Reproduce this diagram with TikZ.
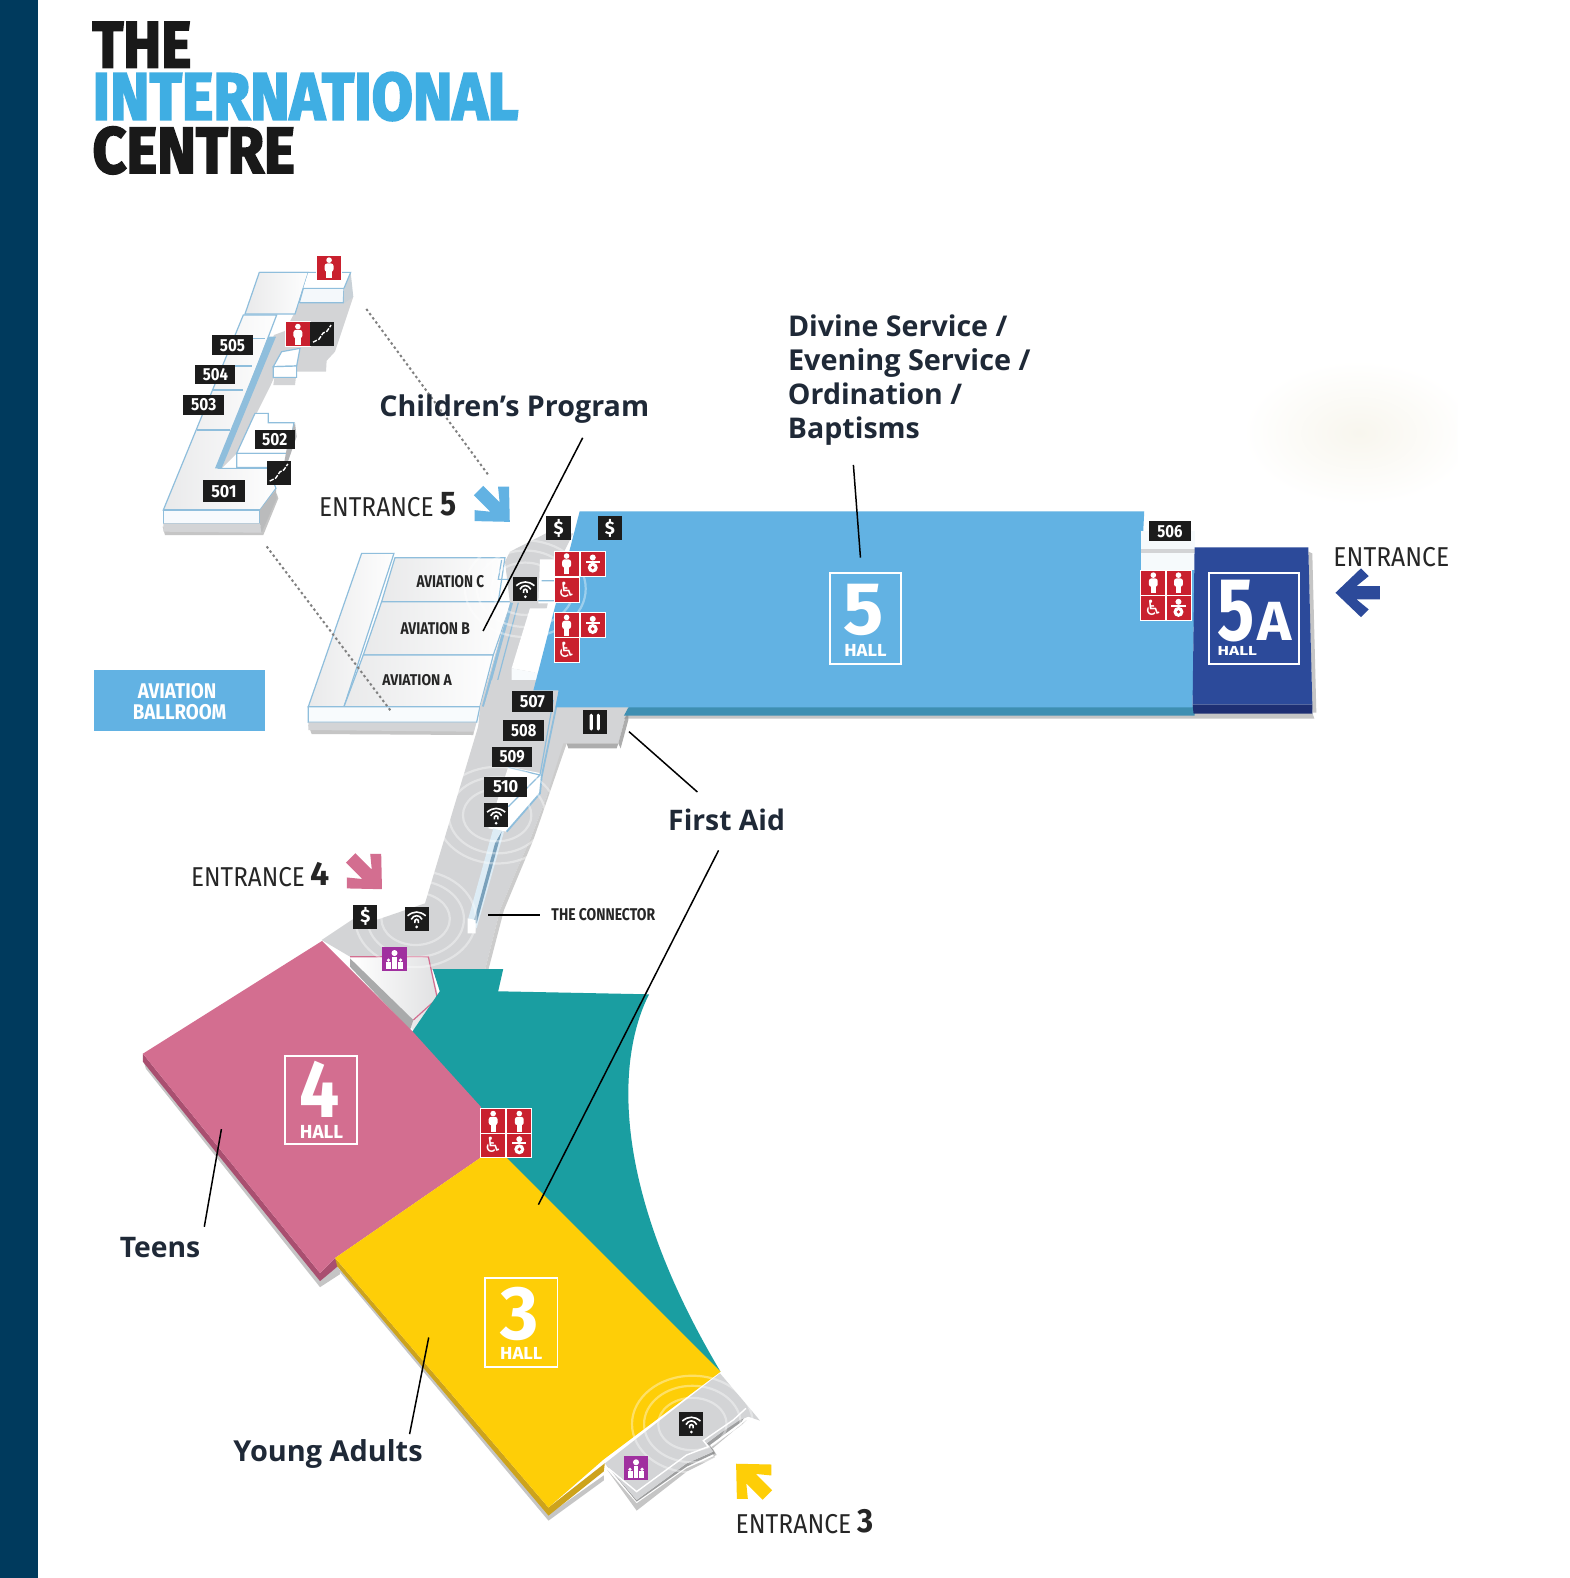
\documentclass[tikz,border=0pt]{standalone}
\usepackage{graphicx}
\usepackage{fontspec}
\setmainfont{Fira Sans}
\newfontfamily\logofont[BoldFeatures={FakeBold=3}]{Fira Sans}
\newfontfamily\lblfont{Open Sans}
\newfontfamily\dvfont{DejaVu Sans}
\usetikzlibrary{shapes.geometric}
\definecolor{barc}{HTML}{003A5D}
\definecolor{hallb}{HTML}{62B2E3}
\definecolor{hallbd}{HTML}{3E8FB2}
\definecolor{halln}{HTML}{2C4A9A}
\definecolor{hallnd}{HTML}{1E2F73}
\definecolor{tealc}{HTML}{1A9EA1}
\definecolor{pinkc}{HTML}{D36E90}
\definecolor{pinkd}{HTML}{A94F70}
\definecolor{yelc}{HTML}{FECE07}
\definecolor{yeld}{HTML}{CDA31C}
\definecolor{greyf}{HTML}{D3D4D6}
\definecolor{lineb}{HTML}{8FBEDC}
\definecolor{iconred}{HTML}{C9202E}
\definecolor{purp}{HTML}{A0309F}
\definecolor{tagc}{HTML}{1C1C1C}
\definecolor{txtc}{HTML}{1F2937}
\definecolor{logob}{HTML}{3FAEE3}
\definecolor{smudge}{HTML}{F8F6EE}
\newlength\pxu \setlength\pxu{.5032pt}
\tikzset{
 z1/.style={shift={(139.1,238.5)},scale=0.3312},
 z2/.style={shift={(298.1,675.7)},scale=0.3312},
 z3/.style={shift={(1093,496.8)},scale=0.3312},
 z4/.style={shift={(516.7,1311.6)},scale=0.3312},
 room/.style={left color=greyf!50!white,right color=white!97!greyf},
 bl/.style={draw=lineb,line width=.6pt},
 sh/.style={fill=black!45,opacity=.5},
 callout/.style={draw=black,line width=.75pt},
 dots/.style={draw=black!50,line width=1pt,dash pattern=on 1.2pt off 1.4pt},
 ring/.style={draw=white,line width=1.1pt,opacity=.38},
 fitn/.style={anchor=south west,inner sep=0pt,outer sep=0pt},
}
% fitted text: name, x, y bottom, width, height, colour, text
\newcommand\ftx[7]{\node[fitn,text=#6] (#1) at (#2,#3) {\resizebox{#4\pxu}{#5\pxu}{#7}};}
% fitted to width only, base line
\newcommand\lbl[5]{\node[anchor=base west,inner sep=0pt,outer sep=0pt,text=txtc] (#1) at (#2,#3) {\resizebox{#4\pxu}{!}{\lblfont\bfseries #5}};}
% room tag: name, x0,y0,x1,y1, text
\newcommand\roomtag[6]{\fill[tagc] (#2,#3) rectangle (#4,#5);\node[inner sep=0pt,text=white] (#1) at ({(#2+#4)/2},{(#3+#5)/2}) {\resizebox{25\pxu}{12\pxu}{\bfseries #6}};}
\newcommand\redsq[2]{\fill[iconred,draw=white,line width=.35pt] (#1-12.4,#2-12.3) rectangle (#1+12.4,#2+12.3);}
\newcommand\iconman[2]{\redsq{#1}{#2}\fill[white] (#1,#2-7.5) circle (2.8);\fill[white,rounded corners=1.2pt] (#1-4.4,#2-4.2) rectangle (#1+4.4,#2+4);\fill[white] (#1-2.6,#2+2) rectangle (#1+2.6,#2+10.5);}
\newcommand\iconbaby[2]{\redsq{#1}{#2}\fill[white] (#1,#2-6) circle (3);\fill[white] (#1-7,#2-3) rectangle (#1+7,#2-1);\fill[white] (#1,#2+4) circle (5);\fill[iconred] (#1,#2+4) circle (1.8);}
\newcommand\iconwheel[2]{\redsq{#1}{#2}\node[inner sep=0pt,text=white,font=\dvfont\fontsize{10.5}{10.5}\selectfont] at (#1,#2) {\symbol{"267F}};}
\newcommand\blacksq[2]{\fill[tagc] (#1-12,#2-12) rectangle (#1+12,#2+12);}
\newcommand\iconwifi[2]{\blacksq{#1}{#2}\foreach \k in {0,3.6,7.2}{\draw[white,line width=.8pt] (#1-9+\k,#2-3+\k) .. controls (#1-3,#2-8+\k) and (#1+3,#2-8+\k) .. (#1+9-\k,#2-3+\k);}\fill[white] (#1,#2+8) circle (1.5);}
\newcommand\icondollar[2]{\blacksq{#1}{#2}\node[inner sep=0pt,text=white] at (#1,#2) {\resizebox{10\pxu}{15\pxu}{\bfseries\$}};}
\newcommand\iconstair[2]{\blacksq{#1}{#2}\draw[white,line width=.7pt,dash pattern=on 2.2pt off .7pt] (#1-9,#2+8)--(#1-3,#2+5)--(#1+1,#2-1)--(#1+5,#2-3)--(#1+9,#2-9);}
\newcommand\iconpurp[2]{\fill[purp] (#1-12,#2-12) rectangle (#1+12,#2+12);\fill[white] (#1,#2-6) circle (3);\fill[white] (#1-6,#2+1) circle (1.8);\fill[white] (#1+6,#2+1) circle (1.8);\fill[white] (#1-8,#2+3) rectangle (#1-3,#2+10);\fill[white] (#1+3,#2+3) rectangle (#1+8,#2+10);\fill[white] (#1-2,#2-2) rectangle (#1+2,#2+10);}
% entrance arrow: centre, rotation, colour
\newcommand\entarrow[4]{\fill[#4,shift={(#1,#2)},rotate=#3,scale=1.1] (-20,-6)--(1,-6)--(-10,-15)--(-3,-22)--(20,0)--(-3,22)--(-10,15)--(1,6)--(-20,6)--cycle;}
\begin{document}
\begin{tikzpicture}[x=.5032pt,y=-.5032pt]
\useasboundingbox (0,0) rectangle (1560,1568);
\fill[white] (0,0) rectangle (1560,1568);
\fill[barc] (0,0) rectangle (38,1568);
% faint smudge
\begin{scope}
\clip (1200,340) rectangle (1448,500);
\shade[inner color=smudge,outer color=white] (1350,430) ellipse (115 and 72);
\end{scope}
% logo
\ftx{logoA}{92}{67}{98}{45}{black!90}{\logofont\bfseries THE}
\ftx{logoB}{92}{120}{423}{47}{logob}{\logofont\bfseries INTERNATIONAL}
\ftx{logoC}{92}{173}{201}{46}{black!90}{\logofont\bfseries CENTRE}
% ---------- annex (levels 501-505)
\begin{scope}[z1]
\fill[sh] (68,860)--(362,860)--(410,760)--(415,775)--(370,885)--(75,885)--cycle;
\fill[greyf] (480,188)--(640,170)--(585,335)--(560,362)--(558,395)--(470,395)--(465,435)--(400,435)--(420,300)--cycle;
\path[room,bl] (310,225)--(410,225)--(235,685)--(385,685)--(408,745)--(360,810)--(70,810)--cycle;
\path[room,bl] (358,97)--(505,97)--(465,222)--(315,222)--cycle;
\fill[white] (505,97)--(632,97)--(612,145)--(490,145)--cycle;
\path[fill=white!90!lineb,bl] (490,145)--(612,145)--(610,188)--(478,188)--cycle;
\fill[greyf!85!lineb] (632,97)--(640,170)--(612,190)--(612,145)--cycle;
\draw[bl] (358,97)--(632,97)--(612,145);
\fill[greyf] (402,285)--(470,260)--(440,330)--(390,440)--(290,640)--(245,685)--cycle;
\fill[lineb] (385,290)--(408,290)--(245,685)--(225,685)--cycle;
\path[fill=white,bl] (425,335)--(480,325)--(470,378)--(400,380)--cycle;
\path[fill=white,bl] (400,380)--(470,378)--(470,412)--(400,412)--cycle;
\path[fill=white,bl] (345,520)--(385,520)--(385,548)--(462,548)--(445,640)--(290,640)--cycle;
\path[fill=white,bl] (290,640)--(445,640)--(430,682)--(290,682)--cycle;
\fill[greyf!85!black] (445,600)--(465,548)--(470,590)--(435,690)--(430,682)--cycle;
\draw[bl] (285,295)--(375,295) (245,378)--(335,378) (215,450)--(310,450) (170,570)--(270,570);
\path[fill=white!93!lineb,bl] (70,810)--(360,810)--(360,850)--(70,850)--cycle;
\fill[greyf] (70,850)--(360,850)--(365,878)--(70,875)--cycle;
\fill[greyf!88!black] (360,810)--(408,748)--(410,775)--(365,878)--(360,850)--cycle;
\end{scope}
% ---------- aviation ballroom
\fill[hallb] (93,666) rectangle (263,726);
\ftx{balA}{137}{694}{78}{15}{white}{\bfseries AVIATION}
\ftx{balB}{132}{715}{93}{15}{white}{\bfseries BALLROOM}
\begin{scope}[z1]
\fill[sh] (505,1455)--(1005,1455)--(1000,1485)--(515,1482)--cycle;
\path[room,bl] (665,940)--(762,940)--(612,1400)--(505,1400)--cycle;
\path[room,bl] (765,953)--(1095,953)--(1075,1085)--(725,1085)--cycle;
\path[room,bl] (725,1085)--(1115,1085)--(1060,1245)--(670,1245)--cycle;
\path[room,bl] (670,1245)--(1060,1245)--(1020,1400)--(612,1400)--cycle;
\path[fill=white!94!lineb,bl] (505,1400)--(1020,1400)--(1010,1447)--(505,1447)--cycle;
\fill[greyf] (505,1447)--(1010,1447)--(1002,1475)--(505,1470)--cycle;
\end{scope}
% ---------- grey floors
\begin{scope}[z1]
\fill[greyf] (1020,1400)--(1110,1090)--(1095,965)--(1110,935)--(1218,880)--(1300,880)--(1240,1000)--(1175,1350)--(1240,1400)--(1240,1520)--(1010,1520)--cycle;
\draw[bl,line width=1.4pt] (1115,1088)--(1030,1400);
\draw[bl] (1135,1088)--(1060,1370);
\fill[white] (1200,958)--(1250,958)--(1250,1090)--(1195,1090)--cycle;
\fill[white] (1170,1105)--(1250,1105)--(1200,1300)--(1115,1285)--cycle;
\fill[white!94!lineb] (1115,1285)--(1200,1300)--(1190,1345)--(1115,1345)--cycle;
\draw[bl] (1205,1022)--(1250,1022) (1195,1082)--(1250,1082) (1085,960)--(1075,1018)--(1110,1018);
\end{scope}
\begin{scope}[z2]
\fill[greyf] (575,0)--(530,155)--(375,670)--(235,718)--(158,718)--(65,780)--(150,830)--(390,870)--(555,870)--(600,690)--(650,570)--(690,480)--(740,350)--(800,190)--(955,190)--(975,115)--(985,78)--(780,78)--(775,0)--cycle;
\fill[black!32] (800,190)--(955,190)--(950,205)--(805,205)--cycle;
\fill[black!32] (955,190)--(985,78)--(985,120)--(962,205)--cycle;
\fill[black!20] (800,190)--(745,350)--(700,480)--(662,570)--(612,690)--(565,870)--(555,870)--(600,690)--(650,570)--(690,480)--(740,350)--(790,190)--cycle;
\fill[white] (625,260)--(725,280)--(720,340)--(620,455)--(565,445)--cycle;
\fill[white!70!lineb] (580,445)--(612,455)--(530,745)--(505,715)--cycle;
\fill[lineb!85!black] (585,490)--(605,455)--(530,730)--(520,730)--cycle;
\fill[white] (503,715)--(527,720)--(527,760)--(503,760)--cycle;
\draw[bl,line width=.9pt] (775,50)--(725,290)--(720,340)--(620,455);
\draw[bl] (760,60)--(720,285)--(625,262) (720,285)--(625,380);
\path[left color=white,right color=greyf!70!white] (150,830)--(385,830)--(415,950)--(410,1000)--(340,1050)--(150,850)--cycle;
\fill[greyf!80!black] (150,835)--(150,860)--(330,1050)--(340,1020)--cycle;
\draw[pinkc,line width=.6pt] (150,830)--(385,830)--(412,955)--(340,1020);
\end{scope}
\begin{scope}[z4]
\fill[greyf!75!black] (255,430)--(350,545)--(500,440)--(585,400)--(570,375)--(665,305)--(690,265)--(660,290)--(600,340)--(560,370)--(580,395)--(500,430)--(350,540)--cycle;
\fill[sh] (262,450)--(350,550)--(500,445)--(590,405)--(575,380)--(665,315)--(680,300)--(570,392)--(585,412)--(500,455)--(350,572)--cycle;
\fill[greyf] (600,160)--(685,260)--(720,302)--(685,290)--(660,300)--(600,340)--(560,370)--(580,395)--(500,430)--(350,540)--(255,430)--cycle;
\draw[white,line width=.7pt] (265,445)--(350,515)--(500,405)--(565,380)--(550,362)--(640,300)--(678,265);
\end{scope}
% ---------- halls
\fill[tealc] (430,963)--(500,963)--(495,985)--(645,988) .. controls (618,1040) and (598,1165) .. (716,1363)--(495,1158)--(470,1108)--(405,1032)--(437,985)--cycle;
\fill[sh] (142,1052)--(318,1272)--(336,1258)--(338,1266)--(318,1279)--(145,1062)--cycle;
\fill[pinkd] (142,1047)--(318,1265)--(333,1250)--(336,1258)--(318,1273)--(142,1055)--cycle;
\fill[pinkc] (320,935)--(410,1025)--(478,1100)--(478,1150)--(333,1250)--(318,1265)--(142,1047)--cycle;
\fill[sh] (338,1257)--(545,1505)--(600,1466)--(600,1471)--(545,1511)--(337,1263)--cycle;
\fill[yeld] (333,1250)--(545,1498)--(601,1454)--(600,1462)--(545,1506)--(335,1258)--cycle;
\fill[yelc] (478,1150)--(503,1150)--(716,1363)--(600,1450)--(545,1498)--(333,1250)--cycle;
% hall 5
\fill[sh] (625,708)--(1304,708)--(1306,714)--(620,714)--cycle;
\fill[hallbd] (625,702)--(1187,702)--(1187,711)--(620,711)--cycle;
\fill[hallb] (576,508)--(1137,508)--(1134,566)--(1187,566)--(1185,703)--(552,703)--(555,686)--(530,686)--cycle;
\fill[white!92!lineb] (1134,528)--(1187,528)--(1187,566)--(1134,566)--cycle;
\fill[greyf] (1134,546)--(1187,546)--(1187,549)--(1134,549)--cycle;
\fill[sh] (1300,548)--(1304,550)--(1308,708)--(1304,708)--cycle;
\fill[hallnd] (1185,700)--(1304,700)--(1304,709)--(1186,709)--cycle;
\fill[halln] (1187,544)--(1300,544)--(1304,700)--(1185,700)--cycle;
% rings
\foreach \cx/\cy in {522/585,494/810,413/913,688/1415}{
 \draw[ring] (\cx,\cy) ellipse (34 and 26);
 \draw[ring] (\cx,\cy) ellipse (48 and 38);
 \draw[ring] (\cx,\cy) ellipse (60 and 48);
}
% hall signs
\draw[white,line width=.9pt] (825,569) rectangle (895,660);
\ftx{h5n}{838}{632}{40}{50}{white}{\bfseries 5}
\ftx{h5l}{839}{652}{42}{12}{white}{\bfseries HALL}
\draw[white,line width=.9pt] (1201,569) rectangle (1291,660);
\ftx{h5an}{1210}{638}{37}{60}{white}{\bfseries 5}
\ftx{h5aa}{1250}{636}{34}{38}{white}{\bfseries A}
\ftx{h5al}{1210}{651}{39}{9}{white}{\bfseries HALL}
\draw[white,line width=.9pt] (283,1049) rectangle (355,1137);
\ftx{h4n}{298}{1110}{40}{56}{white}{\bfseries 4}
\ftx{h4l}{298}{1131}{43}{13}{white}{\bfseries HALL}
\draw[white,line width=.9pt] (482,1270) rectangle (554,1358);
\ftx{h3n}{497}{1332}{38}{52}{white}{\bfseries 3}
\ftx{h3l}{497}{1351}{42}{12}{white}{\bfseries HALL}
% aviation names
\ftx{avC}{414}{584}{67}{12}{black!85}{\bfseries AVIATION C}
\ftx{avB}{398}{631}{69}{12}{black!85}{\bfseries AVIATION B}
\ftx{avA}{380}{681}{69}{11}{black!85}{\bfseries AVIATION A}
% dotted guide lines
\draw[dots] (364,307)--(486,473);
\draw[dots] (265,543)--(388,706);
% room tags
\roomtag{t505}{211}{333}{251}{353}{505}
\roomtag{t504}{194}{363}{234}{382}{504}
\roomtag{t503}{182}{392}{223}{412}{503}
\roomtag{t502}{253}{427}{293}{446}{502}
\roomtag{t501}{202}{477}{243}{499}{501}
\roomtag{t507}{509}{687}{549}{707}{507}
\roomtag{t508}{500}{715}{541}{736}{508}
\roomtag{t509}{489}{742}{529}{762}{509}
\roomtag{t510}{481}{772}{524}{792}{510}
\roomtag{t506}{1142}{518}{1183}{538}{506}
% icons
\iconman{327}{266}
\iconman{296}{332}
\iconstair{320}{332}
\iconstair{277}{470}
\icondollar{555}{525}
\icondollar{606}{525}
\iconwifi{522}{585}
\iconman{563}{560}\iconbaby{589}{560}\iconwheel{563}{586}
\iconman{563}{621}\iconbaby{589}{621}\iconwheel{563}{646}
\iconman{1146}{579}\iconman{1171}{579}\iconwheel{1146}{604}\iconbaby{1171}{604}
\iconman{490}{1114}\iconman{516}{1114}\iconwheel{490}{1138}\iconbaby{516}{1138}
\blacksq{591}{717}
\fill[white,rounded corners=.8pt] (586,709) rectangle (589,726);
\fill[white,rounded corners=.8pt] (593,709) rectangle (596,726);
\iconwifi{493}{810}
\icondollar{363}{911}
\iconwifi{414}{913}
\iconpurp{392}{953}
\iconwifi{687}{1415}
\iconpurp{632}{1459}
% entrance arrows
\entarrow{491}{503}{-45}{hallb}
\entarrow{364}{868}{-45}{pinkc}
\entarrow{747}{1470}{135}{yelc}
\entarrow{1349}{589}{180}{halln}
% entrance labels
\ftx{en5}{317}{514}{114}{19}{black!85}{ENTRANCE}
\ftx{en5n}{438}{513}{16}{23}{black!85}{\bfseries 5}
\ftx{enA}{1325}{563}{115}{19}{black!85}{ENTRANCE}
\ftx{en4}{190}{881}{113}{19}{black!85}{ENTRANCE}
\ftx{en4n}{309}{880}{19}{23}{black!85}{\bfseries 4}
\ftx{en3}{731}{1524}{115}{19}{black!85}{ENTRANCE}
\ftx{en3n}{852}{1523}{16}{23}{black!85}{\bfseries 3}
\ftx{conn}{548}{915}{103}{12}{black!85}{\bfseries THE CONNECTOR}
% labels
\lbl{lDiv1}{783}{334}{218}{Divine Service /}
\lbl{lDiv2}{783}{368}{241}{Evening Service /}
\lbl{lDiv3}{783}{402}{173}{Ordination /}
\lbl{lDiv4}{783}{436}{131}{Baptisms}
\lbl{lChild}{377}{414}{268}{Children’s Program}
\lbl{lAid}{664}{825}{116}{First Aid}
\lbl{lTeens}{119}{1250}{80}{Teens}
\lbl{lYoung}{232}{1452}{188}{Young Adults}
% callouts
\coordinate (cChild) at (480,627);
\coordinate (cHall) at (855,554);
\coordinate (cAid1) at (625,727);
\coordinate (cAid2) at (535,1197);
\coordinate (cTeens) at (220,1122);
\coordinate (cYoung) at (426,1329);
\draw[callout] (579,435)--(cChild);
\draw[callout] (848,462)--(cHall);
\draw[callout] (693,787)--(cAid1);
\draw[callout] (714,845)--(cAid2);
\draw[callout] (203,1219)--(cTeens);
\draw[callout] (407,1425)--(cYoung);
\draw[callout] (485,909)--(537,909);
\end{tikzpicture}
\end{document}
